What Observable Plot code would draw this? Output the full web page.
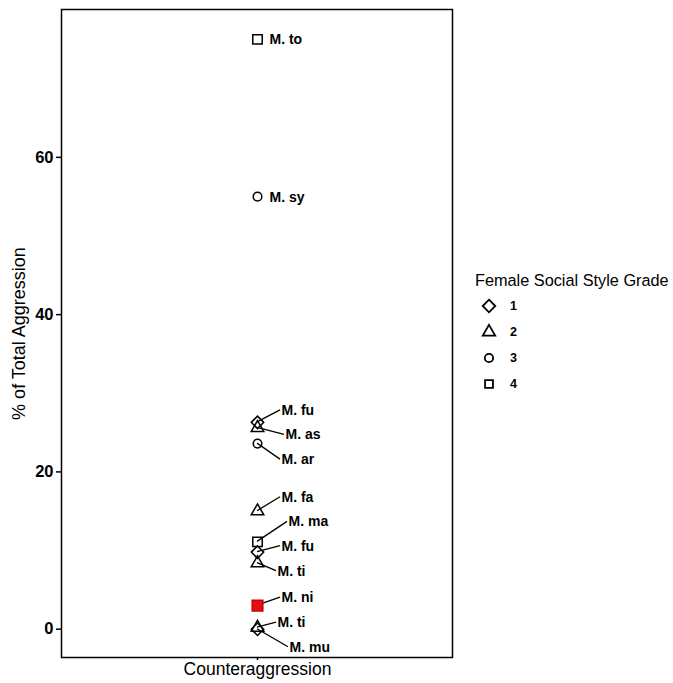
<!DOCTYPE html>
<html><head><meta charset="utf-8">
<script src="https://cdn.jsdelivr.net/npm/d3@7"></script>
<script src="https://cdn.jsdelivr.net/npm/@observablehq/plot@0.6"></script>
<style>
body{margin:0;background:#fff;font-family:"Liberation Sans",Arial,sans-serif;}
#wrap{position:relative;width:673px;height:683px;overflow:hidden;}
#wrap svg{position:absolute;left:0;top:0;}
</style></head><body><div id="wrap"></div>
<script>
// ---- data ----
const species = ["M. to","M. sy","M. fu","M. as","M. ar","M. fa","M. ma","M. fu","M. ti","M. ni","M. ti","M. mu"];
const values  = [75.0, 55.0, 26.3, 25.6, 23.6, 15.0, 11.1, 9.8, 8.4, 3.0, 0.2, 0.0];
const grades  = ["4","3","1","2","3","2","4","1","2","4","2","1"];
const highlight = [false,false,false,false,false,false,false,false,false,true,false,false];
const category = "Counteraggression";
const yTicks = [0, 20, 40, 60];
const gradeLevels = ["1","2","3","4"];
const legendTitle = "Female Social Style Grade";
const yTitle = "% of Total Aggression";

// ---- label layout (repelled label offsets, px) ----
const labelDx = [12, 12, 24, 28, 24, 24, 31, 24, 20, 24, 20, 32];
const labelDy = [0, 1, -12, 7, 16, -14, -20, -6, 8, -8, -5, 18];
const segment = [false,false,true,true,true,true,true,true,true,true,true,true];

const data = species.map((s, i) => ({
  species: s, value: values[i], grade: grades[i], hi: highlight[i],
  cat: category, dx: labelDx[i], dy: labelDy[i], seg: segment[i]
}));

const symbolRange = ["diamond2", "triangle2", "circle", "square2"];
const symbolR = {"1": 5.6, "2": 6, "3": 4.3, "4": 6};

const W = 673, H = 683;
const mL = 61, mR = 221, mT = 9, mB = 26;

function leaderLines(index, scales) {
  const x = scales.x, y = scales.y;
  const bw = x && x.bandwidth ? x.bandwidth() : 0;
  const g = d3.create("svg:g").attr("stroke", "black").attr("stroke-width", 1.3);
  for (const d of data) {
    if (!d.seg) continue;
    const px = x(d.cat) + bw / 2, py = y(d.value);
    g.append("line")
      .attr("x1", px).attr("y1", py)
      .attr("x2", px + d.dx - 1).attr("y2", py + d.dy);
  }
  return g.node();
}

const textMarks = data.map(d => Plot.text([d], {
  x: "cat", y: "value", text: "species", textAnchor: "start",
  dx: d.dx, dy: d.dy, fontSize: 14, fontWeight: "bold", fill: "black"
}));

const dotMarks = gradeLevels.map(gname => Plot.dot(
  data.filter(d => !d.hi && d.grade === gname),
  {x: "cat", y: "value", symbol: "grade", r: symbolR[gname], stroke: "black", strokeWidth: 1.5, fill: "none"}
));

const chart = Plot.plot({
  width: W, height: H,
  marginLeft: mL, marginRight: mR, marginTop: mT, marginBottom: mB,
  style: {fontFamily: "'Liberation Sans', Arial, sans-serif", background: "white", overflow: "visible"},
  x: {domain: [category], tickSize: 3, label: null, tickPadding: 2},
  y: {domain: [-3.6, 78.8], ticks: yTicks, tickSize: 5, tickPadding: 3, label: yTitle, labelAnchor: "center", labelOffset: 49},
  symbol: {domain: gradeLevels, range: symbolRange},
  marks: [
    Plot.frame({stroke: "black", strokeWidth: 1.5}),
    leaderLines,
    ...dotMarks,
    Plot.dot(data.filter(d => d.hi), {x: "cat", y: "value", symbol: "square", r: 6, fill: "#e01010", stroke: "#c00"}),
    ...textMarks
  ]
});

// style axis texts
d3.select(chart).selectAll("text").each(function() {
  const t = this.textContent.trim();
  if (/^\d+$/.test(t)) {
    d3.select(this).style("font-size", "16.5px").style("font-weight", "bold");
  }
  if (t === category) d3.select(this).style("font-size", "17.5px");
  if (t.indexOf(yTitle) >= 0) {
    const sel = d3.select(this);
    sel.selectAll("tspan").remove();
    sel.text(yTitle).style("font-size", "18px");
  }
});
d3.select(chart).selectAll("g[aria-label*='axis'] path, g[aria-label*='axis'] line")
  .attr("stroke-width", 1.5).attr("stroke", "black");

document.getElementById("wrap").appendChild(chart);

// ---- legend ----
const leg = d3.select("#wrap").append("svg")
  .attr("width", W).attr("height", H)
  .style("pointer-events", "none");
leg.append("text").attr("x", 475).attr("y", 286)
  .style("font-size", "16.3px").style("font-family", "'Liberation Sans', Arial, sans-serif")
  .text(legendTitle);
const symTypes = [d3.symbolDiamond2, d3.symbolTriangle2, d3.symbolCircle, d3.symbolSquare2];
const symSizes = [100, 110, 55, 80];
gradeLevels.forEach((gname, i) => {
  const cy = 306 + i * 26;
  leg.append("path")
    .attr("transform", `translate(489,${cy})`)
    .attr("d", d3.symbol(symTypes[i], symSizes[i])())
    .attr("fill", "none").attr("stroke", "black").attr("stroke-width", 1.8);
  leg.append("text").attr("x", 510).attr("y", cy).attr("dy", "0.35em")
    .style("font-size", "12.5px").style("font-weight", "bold")
    .style("font-family", "'Liberation Sans', Arial, sans-serif")
    .text(gname);
});
</script></body></html>
